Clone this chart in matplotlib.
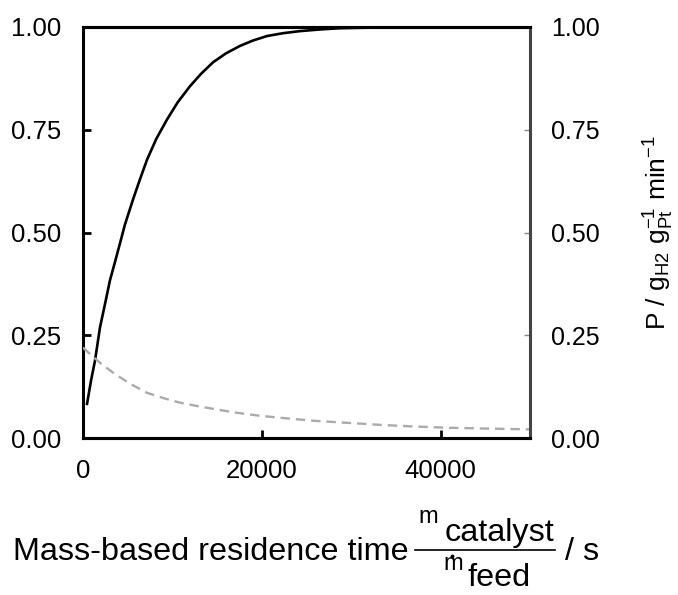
import matplotlib
matplotlib.use("Agg")
import matplotlib.pyplot as plt
from matplotlib.lines import Line2D

plt.rcParams['font.family'] = ['Liberation Sans', 'DejaVu Sans']
plt.rcParams['mathtext.fontset'] = 'custom'
plt.rcParams['mathtext.rm'] = 'Liberation Sans'
plt.rcParams['mathtext.it'] = 'Liberation Sans:italic'
plt.rcParams['mathtext.bf'] = 'Liberation Sans:bold'

# ── データ ───────────────────────────────────────
# 実線: 左軸
tau_conv = [450, 900, 1340, 1900, 2500, 3020, 3600, 4140, 4700, 5590, 6300, 7160,
            8200, 9400, 10600, 11970, 13200, 14540, 16000, 17560, 19000, 20580,
            22400, 24270, 26500, 28750, 31000, 34000, 40000, 50000]
conv = [0.083, 0.14, 0.188, 0.269, 0.33, 0.384, 0.43, 0.474, 0.52, 0.58, 0.625, 0.677,
        0.728, 0.775, 0.817, 0.856, 0.886, 0.914, 0.936, 0.954, 0.967, 0.978,
        0.985, 0.990, 0.994, 0.997, 0.998, 0.999, 1.0, 1.0]

# 破線: 右軸 (生産性)
tau_prod = [0, 1000, 1900, 3360, 5260, 7160, 9000, 10850, 12700, 14540, 17000,
            19800, 22700, 25730, 29500, 33220, 37000, 40710, 45000, 50000]
prod = [0.220, 0.200, 0.183, 0.159, 0.132, 0.110, 0.097, 0.086, 0.078, 0.071, 0.062,
        0.054, 0.048, 0.042, 0.037, 0.032, 0.028, 0.025, 0.023, 0.021]

X_TICKS = [0, 20000, 40000]
Y_TICKS = [0.0, 0.25, 0.5, 0.75, 1.0]

W, H = 678, 595


def fx(px):
    return px / W


def fy(py):
    return 1 - py / H


# ── 描画 ────────────────────────────────────────────────
fig = plt.figure(figsize=(W / 100, H / 100), dpi=100, facecolor='white')
ax = fig.add_axes([fx(83), fy(438), fx(530) - fx(83), fy(27) - fy(438)])
ax2 = ax.twinx()

ax.plot(tau_conv, conv, color='black', linewidth=1.9, zorder=3)
ax2.plot(tau_prod, prod, color='#ababab', linewidth=1.7, linestyle=(0, (4, 2.5)))

ax.set_xlim(0, 50000)
ax.set_ylim(0, 1)
ax2.set_ylim(0, 1)
ax.set_xticks(X_TICKS)
ax.set_xticklabels([str(t) for t in X_TICKS])
ax.set_yticks(Y_TICKS)
ax.set_yticklabels([f'{v:.2f}' for v in Y_TICKS])
ax2.set_yticks(Y_TICKS)
ax2.set_yticklabels([f'{v:.2f}' for v in Y_TICKS])

ax.tick_params(axis='y', direction='in', length=6, width=2, labelsize=18.5, pad=16)
ax.tick_params(axis='x', direction='in', length=6, width=2, labelsize=18.5, pad=15)
ax2.tick_params(axis='y', direction='in', length=4, width=1, color='#888888',
                labelsize=18, pad=15)

for a in (ax, ax2):
    for s in a.spines.values():
        s.set_linewidth(2.2)
        s.set_color('black')
ax2.spines['right'].set_linestyle((0, (1, 1)))
ax2.spines['right'].set_color('#444444')
ax.spines['right'].set_visible(False)
ax2.spines['left'].set_visible(False)

# 右軸ラベル
fig.text(fx(659), fy(232), r'P / g$_\mathrm{H2}$ g$_\mathrm{Pt}^{-1}$ min$^{-1}$',
         fontsize=19, rotation=90, ha='center', va='center')

# x軸ラベル (分数を手組み)
FS_MAIN = 23.3
FS_M = 17
fig.text(fx(13), fy(560), 'Mass-based residence time', fontsize=FS_MAIN, va='baseline')
fig.text(fx(418), fy(523), 'm', fontsize=FS_M, va='baseline')
fig.text(fx(445), fy(541), 'catalyst', fontsize=FS_MAIN, va='baseline')
fig.add_artist(Line2D([fx(415), fx(555)], [fy(550), fy(550)], color='black',
                      linewidth=1.2, transform=fig.transFigure))
fig.text(fx(443), fy(570), 'm', fontsize=FS_M, va='baseline')
fig.add_artist(Line2D([fx(452)], [fy(556)], marker='o', markersize=1.8, color='black',
                      transform=fig.transFigure))
fig.text(fx(468), fy(586), 'feed', fontsize=FS_MAIN, va='baseline')
fig.text(fx(565), fy(560), '/ s', fontsize=FS_MAIN, va='baseline')

fig.savefig('out.png', dpi=100, facecolor='white')
